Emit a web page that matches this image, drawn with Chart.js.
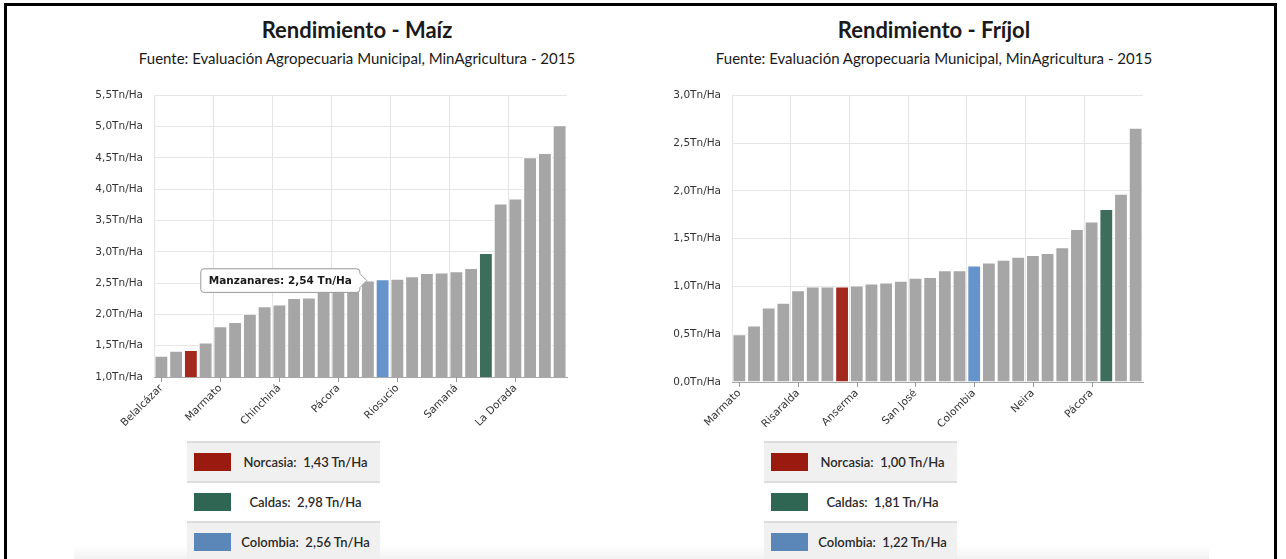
<!DOCTYPE html>
<html>
<head>
<meta charset="utf-8">
<script src="https://cdn.jsdelivr.net/npm/chart.js@4/dist/chart.umd.min.js"></script>
<style>
  html, body { margin: 0; padding: 0; background: #fff; }
  body { width: 1286px; height: 559px; position: relative; overflow: hidden; font-family: Lato, "Open Sans", sans-serif; }
  .frame { position: absolute; left: 4px; top: 3px; width: 1267px; height: 620px; border: 3px solid #000; }
  .title { position: absolute; width: 500px; text-align: center; color: #1a1a1a; }
  .title h1 { margin: 0; font-size: 22px; font-weight: 700; line-height: 26px; }
  .title p { margin: 0; position: absolute; left: 0; right: 0; top: 32px; font-size: 15px; line-height: 18px; white-space: nowrap; }
  .box { position: absolute; }
  .shadow { position: absolute; left: 74px; top: 545px; width: 1135px; height: 14px;
            background: linear-gradient(to bottom, rgba(0,0,0,0), rgba(0,0,0,0.05)); }
  table.leg { position: absolute; border-collapse: collapse; width: 193px; }
  table.leg td { border-top: 2px solid #dcdcdc; height: 38px; padding: 0; vertical-align: middle; }
  table.leg tr.odd td { background: #f0f0f0; }
  table.leg tr.even td { background: #fff; }
  table.leg .sw { width: 44px; }
  table.leg .sw div { width: 37px; height: 18px; margin-left: 7px; }
  table.leg .tx { text-align: center; font-size: 13px; font-weight: 600; color: #2a2a2a; white-space: pre; }
</style>
</head>
<body>
<div class="frame"></div>

<div class="title" style="left:107px; top:17px;">
  <h1>Rendimiento - Maíz</h1>
  <p>Fuente: Evaluación Agropecuaria Municipal, MinAgricultura - 2015</p>
</div>
<div class="title" style="left:684px; top:17px;">
  <h1>Rendimiento - Fríjol</h1>
  <p>Fuente: Evaluación Agropecuaria Municipal, MinAgricultura - 2015</p>
</div>

<div class="box" style="left:77px; top:78px; width:560px; height:362px;"><canvas id="maiz-chart"></canvas></div>
<div class="box" style="left:660px; top:78px; width:548px; height:362px;"><canvas id="frijol-chart"></canvas></div>

<div class="shadow"></div>
<table class="leg" id="maiz-leg" style="left:187px; top:441px;"></table>
<table class="leg" id="frijol-leg" style="left:764px; top:441px;"></table>

<script>
// Maíz (Tn/Ha), sorted ascending
const maizLabels = ['Belalcázar', 'Palestina', 'Norcasia', 'Marulanda', 'Marmato', 'Aranzazu', 'Salamina',
  'Filadelfia', 'Chinchiná', 'Neira', 'Aguadas', 'La Merced', 'Pácora', 'Supía', 'Manzanares', 'Colombia',
  'Riosucio', 'Anserma', 'Risaralda', 'Pensilvania', 'Samaná', 'Marquetalia', 'Caldas', 'Manizales',
  'La Dorada', 'Villamaría', 'Viterbo', 'Victoria'];
const maizValues = [1.34, 1.42, 1.43, 1.55, 1.81, 1.88, 2.01, 2.13, 2.16, 2.26, 2.27, 2.38, 2.44, 2.50,
  2.54, 2.56, 2.57, 2.61, 2.66, 2.67, 2.69, 2.74, 2.98, 3.77, 3.85, 4.51, 4.58, 5.02];
const maizTicks = [1.0, 1.5, 2.0, 2.5, 3.0, 3.5, 4.0, 4.5, 5.0, 5.5];

// Fríjol (Tn/Ha), sorted ascending
const frijolLabels = ['Marmato', 'Supía', 'Riosucio', 'Filadelfia', 'Risaralda', 'Belalcázar', 'Viterbo',
  'Norcasia', 'Anserma', 'La Merced', 'Salamina', 'Aguadas', 'San José', 'Marulanda', 'Villamaría',
  'Chinchiná', 'Colombia', 'Palestina', 'Manizales', 'Pensilvania', 'Neira', 'Aranzazu', 'Marquetalia',
  'Manzanares', 'Pácora', 'Caldas', 'Samaná', 'Victoria'];
const frijolValues = [0.50, 0.59, 0.78, 0.83, 0.96, 1.00, 1.00, 1.00, 1.01, 1.03, 1.04, 1.06, 1.09, 1.10,
  1.17, 1.17, 1.22, 1.25, 1.28, 1.31, 1.33, 1.35, 1.41, 1.60, 1.68, 1.81, 1.97, 2.66];
const frijolTicks = [0.0, 0.5, 1.0, 1.5, 2.0, 2.5, 3.0];

const highlighted = ['Norcasia', 'Caldas', 'Colombia'];
const barColors = { Norcasia: '#a3291f', Caldas: '#3c6e5b', Colombia: '#6593cc' };
const swatchColors = { Norcasia: '#9b1a10', Caldas: '#2e6553', Colombia: '#5b86b8' };
const GRAY = '#a6a6a6';

const fmt = v => v.toFixed(2).replace('.', ',');
const fmtTick = v => v.toFixed(1).replace('.', ',') + 'Tn/Ha';

// small tick marks under the labelled categories
const tickMarks = {
  id: 'tickMarks',
  afterDraw(chart) {
    const x = chart.scales.x, ctx = chart.ctx, bottom = chart.chartArea.bottom;
    ctx.save();
    ctx.strokeStyle = '#999';
    ctx.lineWidth = 1;
    for (let i = 0; i < x.ticks.length; i += 4) {
      const px = Math.round(x.getPixelForValue(i)) + 0.5;
      ctx.beginPath();
      ctx.moveTo(px, bottom);
      ctx.lineTo(px, bottom + 5);
      ctx.stroke();
    }
    ctx.restore();
  }
};

function makeChart(id, labels, values, ticks, yWidth, xHeight, padRight) {
  const ctx = document.getElementById(id).getContext('2d');
  return new Chart(ctx, {
    type: 'bar',
    data: {
      labels: labels,
      datasets: [{
        data: values,
        backgroundColor: labels.map(l => barColors[l] || GRAY),
        borderColor: '#ffffff',
        borderWidth: 1,
        barPercentage: 0.94,
        categoryPercentage: 1.0
      }]
    },
    options: {
      responsive: true,
      maintainAspectRatio: false,
      animation: false,
      events: [],
      layout: { padding: { top: 4, right: padRight, left: 0, bottom: 0 } },
      plugins: {
        legend: { display: false },
        tooltip: {
          enabled: true,
          animation: { duration: 0 },
          backgroundColor: 'rgba(255,255,255,0.96)',
          borderColor: '#999',
          borderWidth: 1,
          bodyColor: '#1a1a1a',
          bodyFont: { family: 'DejaVu Sans', size: 10.5, weight: 'bold' },
          padding: { left: 8, right: 8, top: 6, bottom: 5 },
          caretSize: 7,
          caretPadding: 1,
          cornerRadius: 3,
          displayColors: false,
          xAlign: 'right',
          yAlign: 'center',
          callbacks: {
            title: () => [],
            label: c => c.label + ': ' + fmt(c.raw) + ' Tn/Ha'
          }
        }
      },
      scales: {
        x: {
          afterFit: s => { s.height = xHeight; },
          grid: {
            offset: true,
            drawTicks: false,
            color: c => (c.index % 4 === 0 ? '#e4e4e4' : 'rgba(0,0,0,0)')
          },
          border: { display: true, color: '#a8a8a8' },
          ticks: {
            autoSkip: false,
            maxRotation: 45,
            minRotation: 45,
            padding: 5,
            color: '#333',
            font: { family: 'DejaVu Sans', size: 10.5 },
            callback: function (v, i) { return i % 4 === 0 ? this.getLabelForValue(v) : ''; }
          }
        },
        y: {
          min: ticks[0],
          max: ticks[ticks.length - 1],
          afterFit: s => { s.width = yWidth; },
          afterBuildTicks: s => { s.ticks = ticks.map(v => ({ value: v })); },
          grid: { color: '#e6e6e6', drawTicks: false },
          border: { display: false },
          ticks: {
            padding: 11,
            color: '#333',
            font: { family: 'DejaVu Sans', size: 10.5 },
            callback: v => fmtTick(v)
          }
        }
      }
    },
    plugins: [tickMarks]
  });
}

const maizChart = makeChart('maiz-chart', maizLabels, maizValues, maizTicks, 77, 63, 70);
const frijolChart = makeChart('frijol-chart', frijolLabels, frijolValues, frijolTicks, 72, 58, 65);

// tooltip shown on Manzanares, as in the original view
maizChart.tooltip.setActiveElements([{ datasetIndex: 0, index: maizLabels.indexOf('Manzanares') }], { x: 0, y: 0 });
maizChart.update();

function buildLegend(tableId, labels, values) {
  const t = document.getElementById(tableId);
  highlighted.forEach((name, k) => {
    const v = values[labels.indexOf(name)];
    const tr = document.createElement('tr');
    tr.className = k % 2 === 0 ? 'odd' : 'even';
    tr.innerHTML = '<td class="sw"><div style="background:' + swatchColors[name] + '"></div></td>' +
      '<td class="tx">' + name + ':  ' + fmt(v) + ' Tn/Ha</td>';
    t.appendChild(tr);
  });
}
buildLegend('maiz-leg', maizLabels, maizValues);
buildLegend('frijol-leg', frijolLabels, frijolValues);
</script>
</body>
</html>
